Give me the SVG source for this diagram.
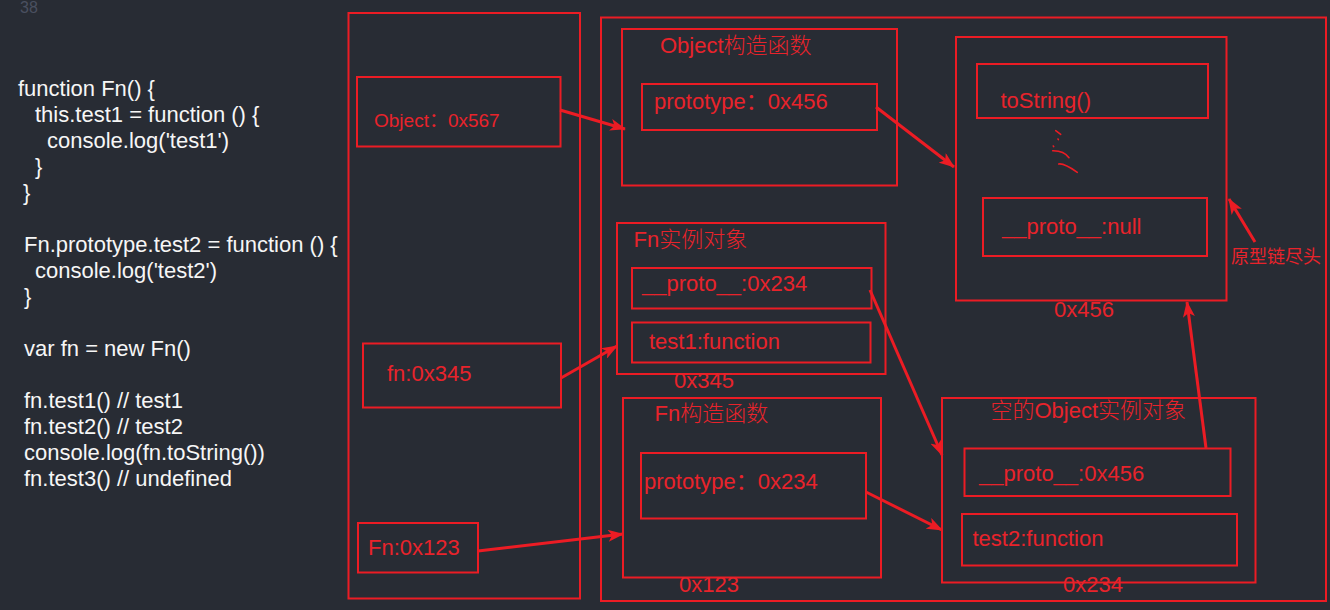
<svg xmlns="http://www.w3.org/2000/svg" width="1330" height="610" viewBox="0 0 1330 610">
<defs>
<style>
.bg{fill:#282c34}
.box{fill:none;stroke:#ec1c24;stroke-width:2}
.code{font-family:"Liberation Sans",Arial,sans-serif;font-size:22px;fill:#f6f6f6}
.lbl{font-family:"Liberation Sans","Noto Sans CJK SC",sans-serif;font-size:22px;fill:#e8232b}
.cn{font-family:"Liberation Sans","Noto Sans CJK SC",sans-serif;font-size:22px;fill:#e8232b;font-weight:300}
.ln{font-family:"Liberation Sans",Arial,sans-serif;font-size:16px;fill:#4a5060}
.arr{fill:none;stroke:#ec1c24;stroke-width:3;marker-end:url(#ah)}
.dot{fill:none;stroke:#ec1c24;stroke-width:1.6;stroke-linecap:round}
</style>
<marker id="ah" markerUnits="userSpaceOnUse" viewBox="0 0 16 12" refX="15" refY="6" markerWidth="16" markerHeight="12" orient="auto">
<path d="M0,0 L16,6 L0,12 L4,6 z" fill="#ec1c24"/>
</marker>
</defs>
<rect class="bg" x="0" y="0" width="1330" height="610"/>

<g id="code">
<text class="ln" x="20" y="13">38</text>
<text class="code" x="18" y="96">function Fn() {</text>
<text class="code" x="35" y="122">this.test1 = function () {</text>
<text class="code" x="47" y="148">console.log('test1')</text>
<text class="code" x="35" y="174">}</text>
<text class="code" x="23" y="200">}</text>
<text class="code" x="24" y="252">Fn.prototype.test2 = function () {</text>
<text class="code" x="35" y="278">console.log('test2')</text>
<text class="code" x="24" y="304">}</text>
<text class="code" x="24" y="356">var fn = new Fn()</text>
<text class="code" x="24" y="408">fn.test1() // test1</text>
<text class="code" x="24" y="434">fn.test2() // test2</text>
<text class="code" x="24" y="460">console.log(fn.toString())</text>
<text class="code" x="24" y="486">fn.test3() // undefined</text>
</g>

<g id="stack">
<rect class="box" x="348.5" y="13" width="231.5" height="585.5"/>
</g>
<g id="heap">
<rect class="box" x="601" y="17.5" width="725" height="583.5"/>
</g>

<g id="var-object">
<rect class="box" x="357" y="77" width="203.5" height="69.5"/>
<text class="lbl" x="374" y="127" style="font-size:19px">Object：0x567</text>
</g>
<g id="var-fn">
<rect class="box" x="363" y="343.5" width="198" height="64"/>
<text class="lbl" x="387" y="381">fn:0x345</text>
</g>
<g id="var-Fn">
<rect class="box" x="358" y="523" width="120" height="49.5"/>
<text class="lbl" x="368" y="555">Fn:0x123</text>
</g>

<g id="object-ctor">
<rect class="box" x="622" y="29" width="275" height="156.5"/>
<text class="cn" x="660" y="53">Object构造函数</text>
<rect class="box" x="642" y="84" width="235" height="46"/>
<text class="lbl" x="654" y="109">prototype：0x456</text>
</g>

<g id="fn-instance">
<rect class="box" x="617" y="223" width="268.5" height="151"/>
<text class="cn" x="633.5" y="247">Fn实例对象</text>
<rect class="box" x="632" y="268" width="239.5" height="40.5"/>
<text class="lbl" x="642" y="291">__proto__:0x234</text>
<rect class="box" x="632" y="322.5" width="238.5" height="40"/>
<text class="lbl" x="649" y="349">test1:function</text>
<text class="lbl" x="674" y="388">0x345</text>
</g>

<g id="fn-ctor">
<rect class="box" x="623" y="398" width="258" height="179.5"/>
<text class="cn" x="654.5" y="421">Fn构造函数</text>
<rect class="box" x="641" y="453" width="225" height="65.5"/>
<text class="lbl" x="644" y="489">prototype：0x234</text>
<text class="lbl" x="679" y="592">0x123</text>
</g>

<g id="object-prototype">
<rect class="box" x="956" y="37" width="270.5" height="263.5"/>
<rect class="box" x="977" y="64" width="231" height="54"/>
<text class="lbl" x="1000.5" y="108">toString()</text>
<path class="dot" d="M1055.7,130.7 L1060.7,134.3"/>
<path class="dot" d="M1058,139 L1058.4,139.6"/>
<path class="dot" d="M1053.3,146 L1053.7,146.6"/>
<path class="dot" d="M1052.7,150.7 Q1064,150.5 1069,157.7"/>
<path class="dot" d="M1058.7,164 Q1064,163 1077.3,172.3"/>
<rect class="box" x="983" y="198" width="224" height="58"/>
<text class="lbl" x="1002" y="234">__proto__:null</text>
<text class="lbl" x="1054" y="317">0x456</text>
</g>

<g id="empty-object">
<rect class="box" x="942" y="398" width="313.5" height="184.5"/>
<text class="cn" x="990.5" y="418">空的Object实例对象</text>
<rect class="box" x="964.5" y="448.5" width="266" height="47.5"/>
<text class="lbl" x="979" y="481">__proto__:0x456</text>
<rect class="box" x="962" y="514" width="275" height="51.5"/>
<text class="lbl" x="972.5" y="546">test2:function</text>
<text class="lbl" x="1063" y="592">0x234</text>
</g>

<g id="chain-end-note">
<text class="lbl" x="1231" y="263" style="font-size:18px">原型链尽头</text>
</g>

<g id="connectors">
<path class="arr" d="M560,110 L625,129"/>
<path class="arr" d="M876,107 L954,167"/>
<path class="arr" d="M561,378 L617,346"/>
<path class="arr" d="M870,290 L942,455"/>
<path class="arr" d="M866,492 L942,530"/>
<path class="arr" d="M478,551 L623,534"/>
<path class="arr" d="M1206,448 L1187,302"/>
<path class="arr" d="M1255,242 L1229,199"/>
</g>
</svg>
